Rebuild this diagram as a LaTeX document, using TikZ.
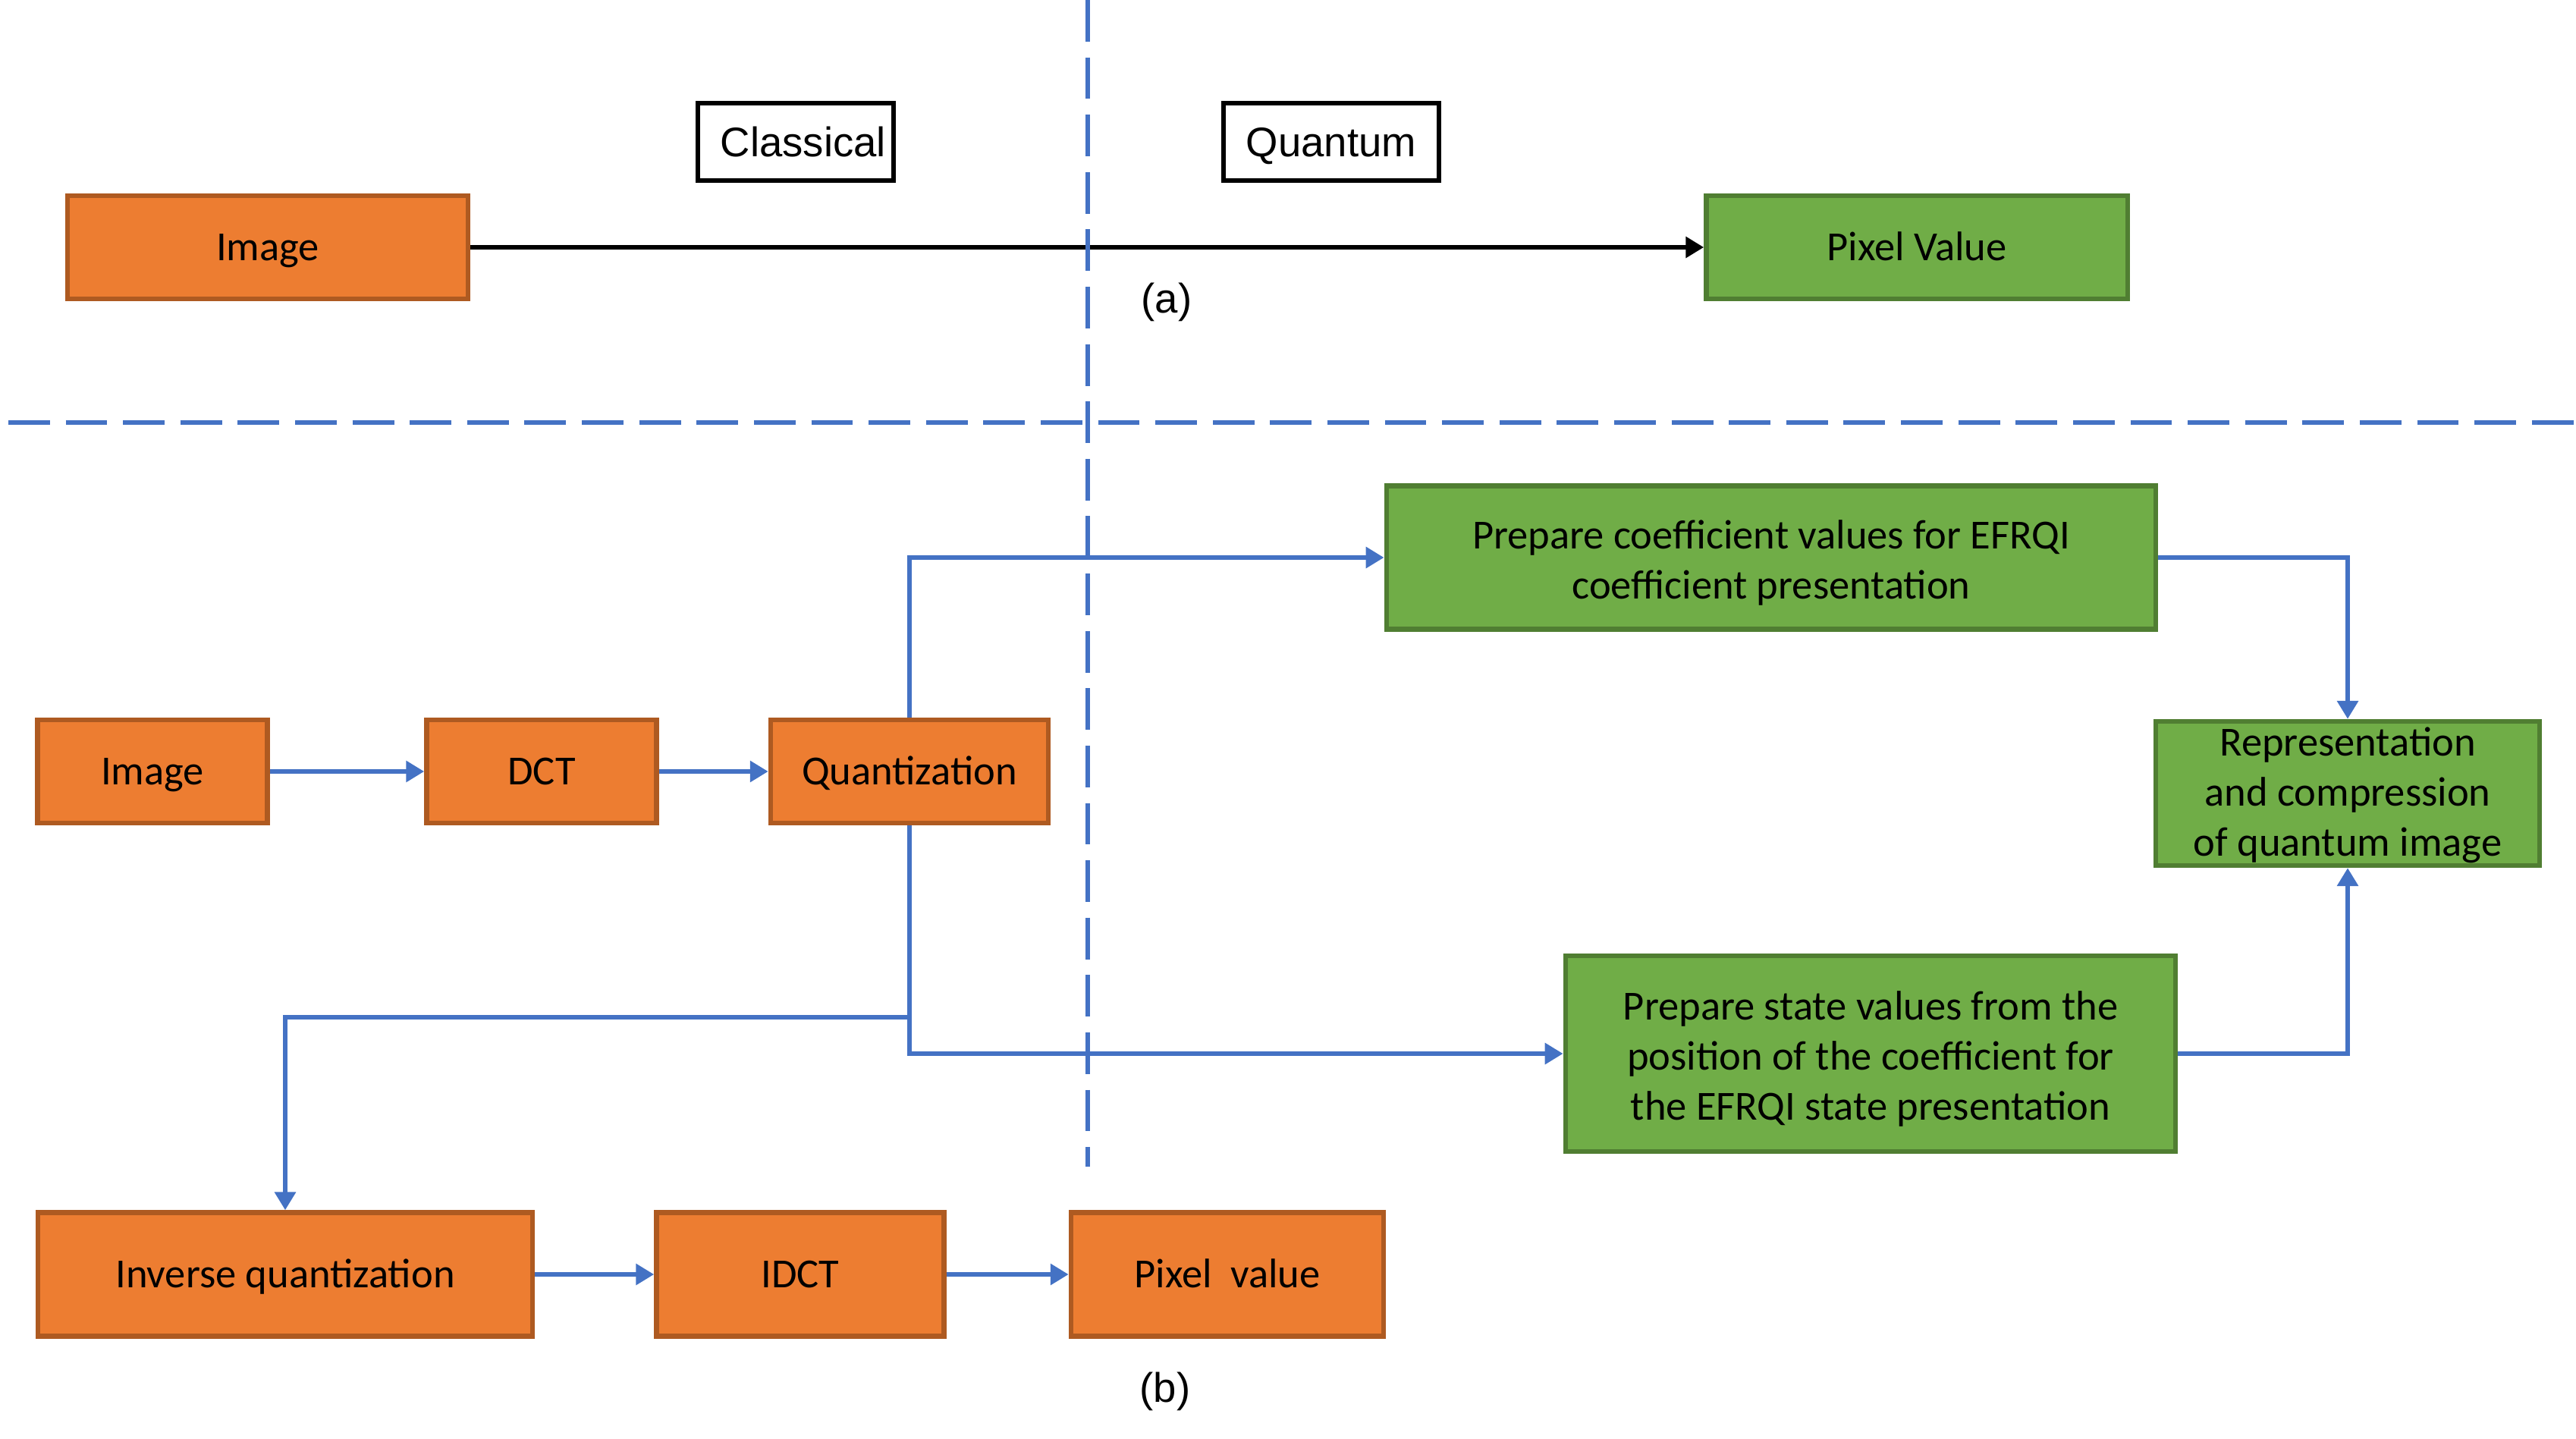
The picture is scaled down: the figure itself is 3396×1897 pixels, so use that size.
\documentclass[tikz,border=0pt]{standalone}
\usepackage{fontspec}
\setmainfont{Carlito}
\newfontfamily\arialfont{Liberation Sans}
\usetikzlibrary{arrows.meta}
\definecolor{orfill}{HTML}{ED7D31}
\definecolor{ordraw}{HTML}{AE5A21}
\definecolor{grfill}{HTML}{70AD47}
\definecolor{grdraw}{HTML}{507E32}
\definecolor{lnblue}{HTML}{4472C4}
\newcommand{\topgap}{\rule{0pt}{14.5pt}}
\newcommand{\smallgap}{\rule{0pt}{12pt}}
\tikzset{
  box/.style={draw, line width=1.8pt, align=center, inner sep=2pt,
    font=\fontsize{15.5}{18.8}\selectfont},
  oneline/.style={text height=12.6pt, text depth=2.6pt},
  orbox/.style={box, fill=orfill, draw=ordraw},
  grbox/.style={box, fill=grfill, draw=grdraw},
  lblbox/.style={draw=black, line width=1.8pt, fill=white, inner sep=0pt,
    text height=11.6pt, text depth=0.5pt,
    font=\arialfont\fontsize{15.5}{18}\selectfont},
  conn/.style={draw=lnblue, line width=1.7pt,
    -{Triangle[length=6.8pt,width=7.7pt]}},
  blackconn/.style={draw=black, line width=1.8pt,
    -{Triangle[length=6.8pt,width=7.7pt]}},
  divider/.style={draw=lnblue, line width=1.5pt, dash pattern=on 15.6pt off 5.9pt},
  caption/.style={font=\arialfont\fontsize{15.5}{18}\selectfont}
}
\begin{document}
\begin{tikzpicture}[x=0.01cm,y=-0.01cm]
\useasboundingbox (0,0) rectangle (3396,1897);
% (a)
\node[lblbox, minimum width=2.58cm, minimum height=1.02cm] (cls) at (1049,187) {\hspace*{0.2cm}Classical};
\node[lblbox, minimum width=2.84cm, minimum height=1.02cm] (qua) at (1755,187) {Quantum};
\node[orbox, oneline, minimum width=5.28cm, minimum height=1.36cm] (imga) at (353,326) {Image};
\node[grbox, oneline, minimum width=5.55cm, minimum height=1.36cm] (pva) at (2527,326) {Pixel Value};
\node[caption] (capa) at (1538,398) {(a)};
% (b)
\node[orbox, oneline, minimum width=3.03cm, minimum height=1.36cm] (imgb) at (201,1017) {Image};
\node[orbox, oneline, minimum width=3.03cm, minimum height=1.36cm] (dct) at (714,1017) {DCT};
\node[orbox, oneline, minimum width=3.66cm, minimum height=1.36cm] (quan) at (1199,1017) {Quantization};
\node[grbox, minimum width=10.14cm, minimum height=1.89cm] (pc) at (2335,735) {\topgap Prepare coefficient values for EFRQI\\coefficient presentation};
\node[grbox, minimum width=5.06cm, minimum height=1.90cm, inner sep=0pt] (rep) at (3095,1046) {\smallgap Representation\\and compression\\of quantum image};
\node[grbox, minimum width=8.04cm, minimum height=2.58cm] (ps) at (2466,1389) {\topgap Prepare state values from the\\position of the coefficient for\\the EFRQI state presentation};
\node[orbox, oneline, minimum width=6.52cm, minimum height=1.63cm] (iq) at (376,1680) {Inverse quantization};
\node[orbox, oneline, minimum width=3.79cm, minimum height=1.63cm] (idct) at (1055,1680) {IDCT};
\node[orbox, oneline, minimum width=4.12cm, minimum height=1.63cm] (pvb) at (1618,1680) {Pixel~~value};
\node[caption] (capb) at (1536,1834) {(b)};
% connectors
\draw[blackconn] (imga) -- (pva);
\draw[conn] (imgb) -- (dct);
\draw[conn] (dct) -- (quan);
\draw[conn] (quan.north) |- (pc.west);
\draw[conn] (quan.south) |- (ps.west);
\coordinate (split) at (1199,1341);
\draw[conn] (split) -| (iq.north);
\draw[conn] (iq) -- (idct);
\draw[conn] (idct) -- (pvb);
\draw[conn] (pc.east) -| (rep.north);
\draw[conn] (ps.east) -| (rep.south);
% dividers
\coordinate (vtop) at (1434,0);
\coordinate (vbot) at (1434,1538);
\coordinate (hl) at (11,557);
\coordinate (hr) at (3396,557);
\draw[divider] (vtop) -- (vbot);
\draw[divider] (hl) -- (hr);
\end{tikzpicture}
\end{document}
